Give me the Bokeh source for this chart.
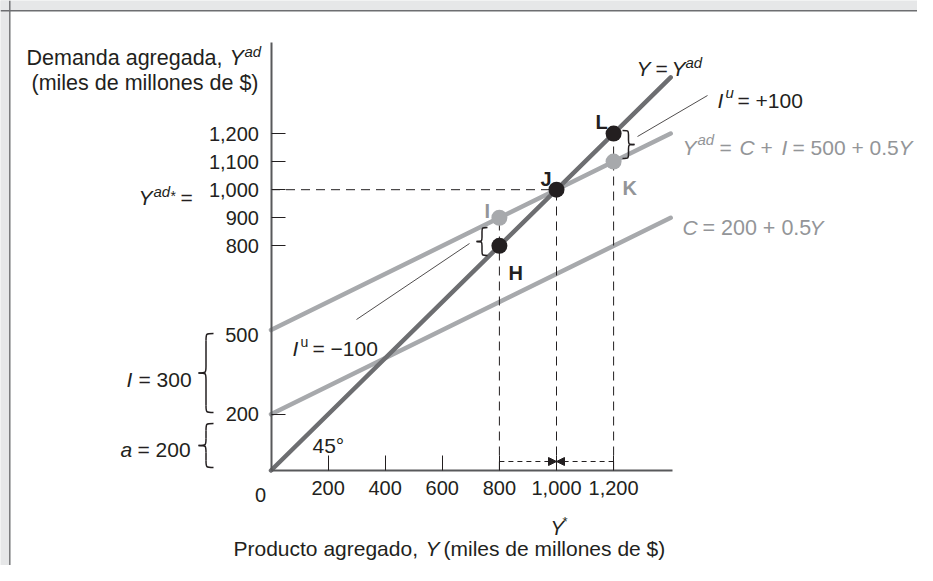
from bokeh.plotting import figure
from bokeh.models import Range1d, FixedTicker, Span, Arrow, NormalHead
from bokeh.core.properties import value
from bokeh.embed import file_html
from bokeh.resources import INLINE

# ---------------- data ----------------
y45_x = [0, 1400]
y45_y = [0, 1400]
yad_x = [0, 1400]
yad_y = [500, 1200]          # Yad = C + I = 500 + 0.5Y
c_x = [0, 1400]
c_y = [200, 900]             # C = 200 + 0.5Y
black_x = [800, 1000, 1200]  # H, J, L
black_y = [800, 1000, 1200]
gray_x = [800, 1200]         # I, K
gray_y = [900, 1100]
guide_x = [800, 1000, 1200]
guide_top = [900, 1000, 1200]
eq_y = 1000
x_ticks = [200, 400, 600, 800, 1000, 1200]
x_tick_labels = ["200", "400", "600", "800", "1,000", "1,200"]
y_ticks = [200, 800, 900, 1000, 1100, 1200]
y_tick_labels = ["200", "800", "900", "1,000", "1,100", "1,200"]
x_axis_end = 1407
y_axis_end = 1525

# ---------------- layout ----------------
W, H = 917, 565
SX, SY = 0.2855, 0.2808
OX, OY = 270.5, 470.0

def X(px):   # pixel -> data x
    return (px - OX) / SX

def Y(py):   # pixel -> data y
    return (OY - py) / SY

BLACK = "#231f20"
GRAY_T = "#939598"
DARK_LINE = "#6d6e71"
GRAY_LINE = "#a7a9ac"
AXIS = "#58595b"
FONT = "Liberation Sans"

p = figure(width=W, height=H, output_backend="svg", toolbar_location=None,
           x_range=Range1d(X(0), X(W)), y_range=Range1d(Y(H), Y(0)),
           min_border=0, outline_line_color=None,
           background_fill_color="white", border_fill_color="white")
p.xgrid.visible = False
p.ygrid.visible = False

for ax, ticks, labels, end in ((p.xaxis[0], x_ticks, x_tick_labels, x_axis_end),
                               (p.yaxis[0], y_ticks, y_tick_labels, y_axis_end)):
    ax.fixed_location = 0
    ax.bounds = (0, end)
    ax.ticker = FixedTicker(ticks=ticks)
    ax.major_label_overrides = {t: l for t, l in zip(ticks, labels)}
    ax.major_tick_out = 0
    ax.minor_tick_in = 0
    ax.minor_tick_out = 0
    ax.major_tick_line_color = BLACK
    ax.major_tick_line_width = 1
    ax.axis_line_color = AXIS
    ax.axis_line_width = 2
    ax.major_label_text_font = FONT
    ax.major_label_text_font_size = "20px"
    ax.major_label_text_color = BLACK
p.xaxis.major_tick_in = 15
p.yaxis.major_tick_in = 14
p.xaxis.major_label_standoff = 10
p.yaxis.major_label_standoff = 12

# panel background strips and border
p.quad(left=[X(-5), X(-5)], right=[X(8.6), X(W + 5)], bottom=[Y(H + 5), Y(9.6)],
       top=[Y(-5), Y(-5)], fill_color="#e6e7e8", line_color=None)
p.add_layout(Span(location=X(9.3), dimension="height", line_color="#6d6e71", line_width=1.4))
p.add_layout(Span(location=Y(10.3), dimension="width", line_color="#6d6e71", line_width=1.4))

# lines
p.line(c_x, c_y, line_color=GRAY_LINE, line_width=4.5, line_cap="round")
p.line(yad_x, yad_y, line_color=GRAY_LINE, line_width=4.5, line_cap="round")
p.line(y45_x, y45_y, line_color=DARK_LINE, line_width=4.5, line_cap="round")

# dashed guides
p.segment(x0=[0], y0=[eq_y], x1=[guide_x[1]], y1=[eq_y], line_color=BLACK,
          line_width=1, line_dash="9 6")
p.segment(x0=guide_x, y0=[0] * 3, x1=guide_x, y1=guide_top, line_color=BLACK,
          line_width=1, line_dash="9 6")

# arrows toward equilibrium
ya = Y(461)
for xs in (guide_x[0], guide_x[2]):
    p.add_layout(Arrow(end=NormalHead(size=8, fill_color=BLACK, line_color=BLACK),
                       x_start=xs, y_start=ya, x_end=guide_x[1], y_end=ya,
                       line_color=BLACK, line_width=1, line_dash="5 4"))

# points
p.scatter(gray_x, gray_y, size=16, fill_color=GRAY_LINE, line_color=None)
p.scatter(black_x, black_y, size=16, fill_color=BLACK, line_color=None)

# braces
def brace(xb, xt, y0, y1, r):
    xm = (xb + xt) / 2
    ym = (y0 + y1) / 2
    segs = [
        (xb, y1, xm, y1 - r, xm, y1, xm, y1),
        (xm, y1 - r, xm, ym + r, xm, y1 - r, xm, ym + r),
        (xm, ym + r, xt, ym, xm, ym, xm, ym),
        (xt, ym, xm, ym - r, xm, ym, xm, ym),
        (xm, ym - r, xm, y0 + r, xm, ym - r, xm, y0 + r),
        (xm, y0 + r, xb, y0, xm, y0, xm, y0),
    ]
    cols = list(zip(*segs))
    p.bezier(x0=list(cols[0]), y0=list(cols[1]), x1=list(cols[2]), y1=list(cols[3]),
             cx0=list(cols[4]), cy0=list(cols[5]), cx1=list(cols[6]), cy1=list(cols[7]),
             line_color=BLACK, line_width=1.5)

brace(X(213), X(198), Y(412), Y(333), 7 / SY)
brace(X(213), X(198), Y(467), Y(423), 7 / SY)
brace(X(487), X(476), Y(255), Y(227), 4.5 / SY)
brace(X(622), X(634), Y(158), Y(130), 4.5 / SY)

# leader lines
p.segment(x0=[X(356), X(707)], y0=[Y(319), Y(95)], x1=[X(469), X(637)], y1=[Y(243), Y(136)],
          line_color=BLACK, line_width=0.8)

# texts: (text, x, baseline_y, size, style, color, align)
N, I_, B = "normal", "italic", "bold"
texts = [
    ("Demanda agregada,", 26, 57, 21.5, N, BLACK, "left"),
    ("Y", 229, 57, 21.5, I_, BLACK, "left"),
    ("ad", 244, 51, 15, I_, BLACK, "left"),
    ("(miles de millones de $)", 258, 82, 21.5, N, BLACK, "right"),
    ("Y", 138, 197, 21, I_, BLACK, "left"),
    ("ad", 153, 191, 15, I_, BLACK, "left"),
    ("*", 170, 195, 14, N, BLACK, "left"),
    ("=", 180, 197, 21, N, BLACK, "left"),
    ("500", 258, 334, 20, N, BLACK, "right"),
    ("0", 260, 494, 20, N, BLACK, "center"),
    ("I", 126, 379, 21, I_, BLACK, "left"),
    ("= 300", 138, 379, 21, N, BLACK, "left"),
    ("a", 120, 449, 21, I_, BLACK, "left"),
    ("= 200", 137, 449, 21, N, BLACK, "left"),
    ("45°", 312, 445, 21, N, BLACK, "left"),
    ("I", 292, 348, 21, I_, BLACK, "left"),
    ("u", 300, 341, 14, N, BLACK, "left"),
    ("= −100", 312, 348, 21, N, BLACK, "left"),
    ("I", 717, 100, 21, I_, BLACK, "left"),
    ("u", 725, 92, 15, I_, BLACK, "left"),
    ("= +100", 737, 100, 21, N, BLACK, "left"),
    ("Y", 636, 68, 21, I_, BLACK, "left"),
    ("=", 655, 68, 21, N, BLACK, "left"),
    ("Y", 671, 68, 21, I_, BLACK, "left"),
    ("ad", 685, 62, 15, I_, BLACK, "left"),
    ("Y", 682, 147, 21, I_, GRAY_T, "left"),
    ("ad", 697, 139, 15, I_, GRAY_T, "left"),
    ("=", 719, 147, 21, N, GRAY_T, "left"),
    ("C", 739, 147, 21, I_, GRAY_T, "left"),
    ("+", 760, 147, 21, N, GRAY_T, "left"),
    ("I", 781, 147, 21, I_, GRAY_T, "left"),
    ("= 500 + 0.5", 792, 147, 21, N, GRAY_T, "left"),
    ("Y", 898, 147, 21, I_, GRAY_T, "left"),
    ("C", 682, 227, 21, I_, GRAY_T, "left"),
    ("= 200 + 0.5", 702, 227, 21.5, N, GRAY_T, "left"),
    ("Y", 809, 227, 21, I_, GRAY_T, "left"),
    ("L", 595, 121, 20, B, BLACK, "left"),
    ("J", 540, 178, 20, B, BLACK, "left"),
    ("K", 622, 187, 20, B, GRAY_T, "left"),
    ("I", 484, 210, 20, B, GRAY_T, "left"),
    ("H", 508, 272, 20, B, BLACK, "left"),
    ("Y", 550, 527, 20, I_, BLACK, "left"),
    ("*", 562, 521, 13, N, BLACK, "left"),
    ("Producto agregado,", 233, 548, 21, N, BLACK, "left"),
    ("Y", 425, 548, 21, I_, BLACK, "left"),
    ("(miles de millones de $)", 443, 548, 21, N, BLACK, "left"),
]
for s, px, py, size, style, color, align in texts:
    p.text(x=[X(px)], y=[Y(py)], text=[s], text_font=value(FONT),
           text_font_size=value(f"{size}px"), text_font_style=value(style),
           text_color=color, text_align=align, text_baseline="alphabetic")

open("out.html", "w").write(file_html(p, INLINE))
